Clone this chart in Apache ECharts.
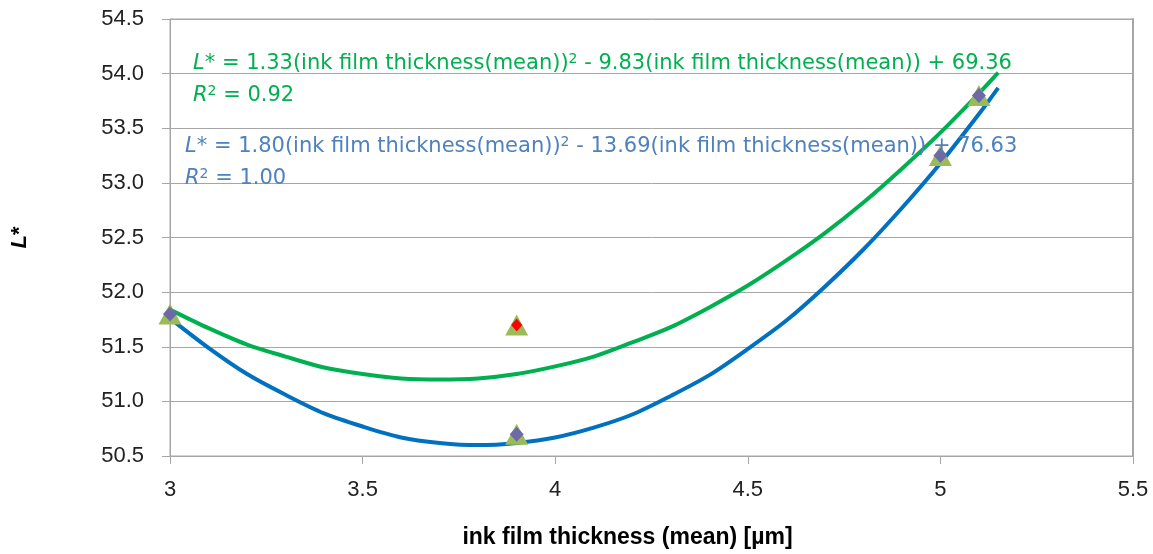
<!DOCTYPE html>
<html>
<head>
<meta charset="utf-8">
<script src="https://cdn.jsdelivr.net/npm/echarts@6/dist/echarts.min.js"></script>
<style>
  html, body { margin: 0; padding: 0; background: #fff; }
  #chart { width: 1153px; height: 554px; }
</style>
</head>
<body>
<div id="chart"></div>
<script>
// measured points
var pointX = [3, 3.9, 3.9, 5, 5.1];
var pointY = [51.8, 50.7, 51.7, 53.25, 53.8];
// diamonds drawn on these (index into points), red one separately
var diamondIdx = [0, 1, 3, 4];
var redIdx = [2];

// trendline curves
var curveX = [3, 3.1, 3.2, 3.3, 3.4, 3.5, 3.6, 3.7, 3.8, 3.9, 4, 4.1, 4.2, 4.3, 4.4, 4.5, 4.6, 4.7, 4.8, 4.9, 5, 5.1, 5.15];
var greenY = [51.84, 51.67, 51.52, 51.41, 51.31, 51.25, 51.21, 51.20, 51.21, 51.25, 51.32, 51.41, 51.54, 51.68, 51.86, 52.06, 52.29, 52.54, 52.82, 53.13, 53.46, 53.82, 54.01];
var blueY = [51.76, 51.49, 51.25, 51.06, 50.89, 50.77, 50.67, 50.62, 50.60, 50.62, 50.67, 50.76, 50.88, 51.05, 51.24, 51.48, 51.74, 52.05, 52.39, 52.77, 53.18, 53.63, 53.87];

var greenEq = ['L* = 1.33(ink film thickness(mean))', ' - 9.83(ink film thickness(mean)) + 69.36', 'R', ' = 0.92'];
var blueEq = ['L* = 1.80(ink film thickness(mean))', ' - 13.69(ink film thickness(mean)) + 76.63', 'R', ' = 1.00'];

function zip(xs, ys) {
  var out = [];
  for (var i = 0; i < xs.length; i++) out.push([xs[i], ys[i]]);
  return out;
}
function pick(idx) {
  return idx.map(function (i) { return [pointX[i], pointY[i]]; });
}

var font = '"Liberation Sans", "DejaVu Sans", sans-serif';
var eqFont = '"DejaVu Sans", "Liberation Sans", sans-serif';

function eqRich(color) {
  return {
    n: { fontFamily: eqFont, fontSize: 21, fill: color, lineHeight: 32 },
    i: { fontFamily: eqFont, fontSize: 21, fill: color, fontStyle: 'italic', lineHeight: 32 },
    s: { fontFamily: eqFont, fontSize: 14, fill: color, lineHeight: 32, padding: [0, 0, 10, 0] }
  };
}
function eqText(eq) {
  return '{i|L}{n|' + eq[0].slice(1) + '}{s|2}{n|' + eq[1] + '}\n{i|' + eq[2] + '}{s|2}{n|' + eq[3] + '}';
}

var chart = echarts.init(document.getElementById('chart'));
var option = {
  backgroundColor: '#fff',
  animation: false,
  grid: {
    left: 170, right: 20, top: 19, bottom: 98,
    show: true, borderColor: '#a6a6a6', borderWidth: 1, backgroundColor: 'transparent'
  },
  xAxis: {
    type: 'value', min: 3, max: 5.5, interval: 0.5,
    name: 'ink film thickness (mean) [µm]',
    nameLocation: 'middle', nameGap: 70,
    nameTextStyle: { fontFamily: font, fontSize: 23, fontWeight: 'bold', color: '#000', padding: [0, 48, 0, 0] },
    axisLine: { onZero: false, lineStyle: { color: '#a6a6a6', width: 1 } },
    axisTick: { show: true, length: 8, lineStyle: { color: '#a6a6a6' } },
    axisLabel: { fontFamily: font, fontSize: 22, color: '#222', margin: 23 },
    splitLine: { show: false }
  },
  yAxis: [
    {
      type: 'value', min: 50.5, max: 54.5, interval: 0.5,
      name: '{i|L}*', nameLocation: 'middle', nameGap: 139, nameRotate: 90,
      nameTextStyle: {
        fontFamily: font, fontSize: 22, fontWeight: 'bold', color: '#000',
        rich: { i: { fontFamily: font, fontSize: 22, fontWeight: 'bold', fontStyle: 'italic', color: '#000' } }
      },
      axisLine: { show: true, lineStyle: { color: '#a6a6a6', width: 1 } },
      axisTick: { show: true, length: 8, lineStyle: { color: '#a6a6a6' } },
      axisLabel: {
        fontFamily: font, fontSize: 22, color: '#222', margin: 26,
        formatter: function (v) { return v.toFixed(1); }
      },
      splitLine: { show: true, lineStyle: { color: '#a6a6a6', width: 1 } }
    },
    {
      // right border of the plot frame
      type: 'value', min: 50.5, max: 54.5, interval: 0.5, position: 'right',
      axisLine: { show: true, lineStyle: { color: '#a6a6a6', width: 2 } },
      axisTick: { show: false }, axisLabel: { show: false }, splitLine: { show: false }
    }
  ],
  series: [
    {
      name: 'green trend', type: 'line', data: zip(curveX, greenY),
      smooth: 0.3, showSymbol: false, z: 2,
      lineStyle: { color: '#00b050', width: 4 }
    },
    {
      name: 'blue trend', type: 'line', data: zip(curveX, blueY),
      smooth: 0.3, showSymbol: false, z: 2,
      lineStyle: { color: '#0070c0', width: 4 }
    },
    {
      name: 'triangles', type: 'scatter', data: zip(pointX, pointY),
      symbol: 'triangle', symbolSize: [23, 21], z: 3,
      itemStyle: { color: '#9bbb59', opacity: 1 }
    },
    {
      name: 'diamonds', type: 'scatter', data: pick(diamondIdx),
      symbol: 'diamond', symbolSize: [14, 15], z: 4,
      itemStyle: { color: '#6d68a8', opacity: 1 }
    },
    {
      name: 'red', type: 'scatter', data: pick(redIdx),
      symbol: 'diamond', symbolSize: [11, 13], z: 4,
      itemStyle: { color: '#ff0000', opacity: 1 }
    }
  ],
  graphic: [
    {
      type: 'text', left: 193, top: 52, z: 10,
      style: { text: eqText(greenEq), rich: eqRich('#00b050') }
    },
    {
      type: 'text', left: 185, top: 135, z: 10,
      style: { text: eqText(blueEq), rich: eqRich('#4f81bd') }
    }
  ]
};
chart.setOption(option);
</script>
</body>
</html>
